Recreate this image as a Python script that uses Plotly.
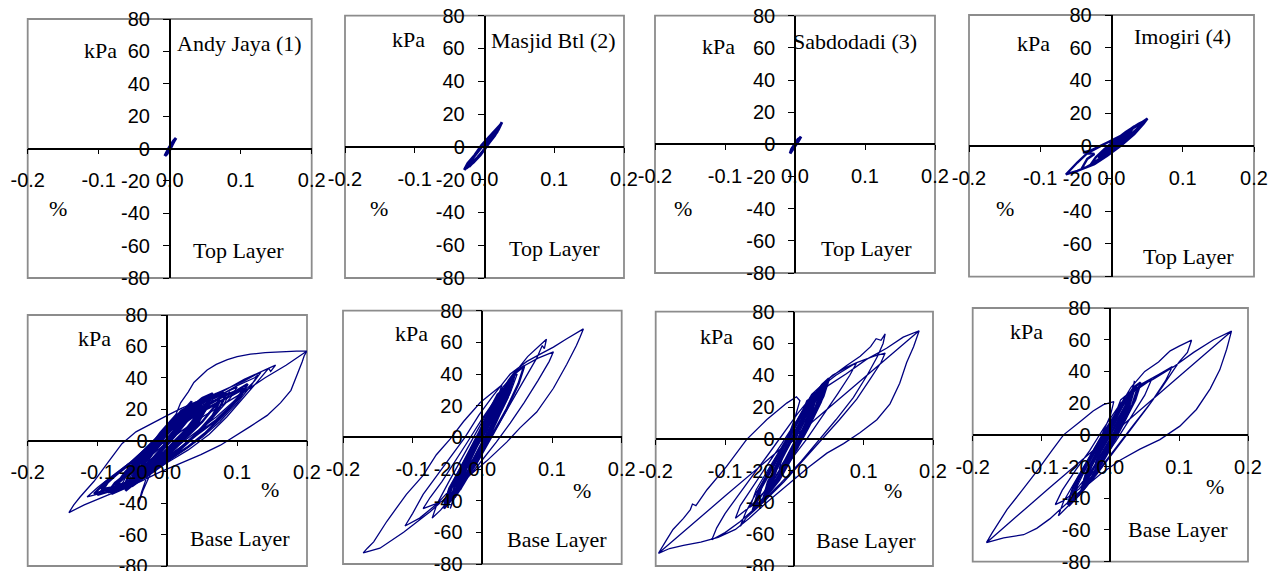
import plotly.graph_objects as go

# ---------------- data (strain %, stress kPa) ----------------
site_names = ["Andy Jaya (1)", "Masjid Btl (2)", "Sabdodadi (3)", "Imogiri (4)"]
layer_names = ["Top Layer", "Base Layer"]
x_ticks = [-0.2, -0.1, 0.0, 0.1, 0.2]
x_tick_labels = ["-0.2", "-0.1", "0.0", "0.1", "0.2"]
y_ticks = [-80, -60, -40, -20, 0, 20, 40, 60, 80]
y_tick_labels = ["-80", "-60", "-40", "-20", "0", "20", "40", "60", "80"]

top1_path = [
    (0.000, 0), (0.004, 3), (0.009, 6.5), (0.006, 4), (0.001, 0), (-0.004, -3), (-0.007, -4.5),
    (-0.005, -2.5), (-0.001, 0.5), (0.005, 4.5), (0.008, 6), (0.004, 2.5), (0.000, -1),
    (-0.006, -4), (-0.004, -3.5), (0.000, -0.5), (0.003, 2), (0.006, 5), (0.002, 1),
    (-0.003, -2.5), (-0.006, -4.5), (-0.002, -1), (0.002, 2), (0.000, 0)]

top2_path = [
    (0.000, 0), (0.010, 6), (0.020, 11), (0.025, 15), (0.020, 10.5), (0.010, 4.5), (0.000, -1.5),
    (-0.010, -6.5), (-0.020, -10.5), (-0.029, -14), (-0.024, -10), (-0.014, -5), (-0.004, 1),
    (0.006, 5.5), (0.016, 10), (0.023, 13.5), (0.018, 9), (0.008, 3), (-0.002, -2.5),
    (-0.012, -7.5), (-0.022, -12), (-0.018, -7.5), (-0.008, -2), (0.002, 3.5), (0.012, 8.5),
    (0.020, 12), (0.015, 7), (0.004, 1), (-0.006, -5), (-0.016, -9.5), (-0.026, -13),
    (-0.020, -8.5), (-0.010, -3), (0.000, 2.5), (0.008, 6)]

top3_path = [
    (0.000, 0), (0.004, 2.5), (0.0086, 4.8), (0.005, 2), (0.000, -1), (-0.004, -3.5), (-0.007, -5.6),
    (-0.005, -3), (-0.001, 0), (0.004, 3), (0.007, 4), (0.003, 1), (-0.002, -2.5),
    (-0.006, -5), (-0.003, -2), (0.001, 1), (0.005, 3.5), (0.002, 0.5), (0.000, 0)]

top4_path = [
    (0.000, 0), (0.010, 4), (0.020, 7.5), (0.015, 4), (0.004, 0), (-0.008, -4), (-0.018, -7.5),
    (-0.012, -4), (-0.002, 0.5), (0.010, 5), (0.025, 10), (0.032, 12), (0.024, 7), (0.010, 1),
    (-0.005, -4), (-0.020, -9), (-0.030, -12), (-0.022, -7), (-0.010, -2), (0.005, 3.5),
    (0.020, 8.5), (0.038, 13.5), (0.045, 15), (0.035, 10), (0.020, 4), (0.005, -1.5),
    (-0.015, -8), (-0.035, -13), (-0.042, -14), (-0.034, -8), (-0.024, -5), (-0.040, -4),
    (-0.030, -3), (-0.015, 0), (0.000, 3), (0.013, 6), (0.032, 11.2), (0.0505, 16.7),
    (0.045, 13.5), (0.032, 7.1), (0.013, 0), (-0.006, -6.1), (-0.024, -11.2), (-0.048, -15.3),
    (-0.064, -17.5), (-0.048, -10.2), (-0.034, -4.5), (-0.015, 0), (-0.001, 3.1), (0.013, 6.1),
    (0.025, 9), (0.018, 5), (0.005, 0), (-0.008, -4), (0.000, 0)]

base1_path = [
    (0.200, 57), (0.170, 48), (0.140, 40), (0.110, 31), (0.080, 23), (0.050, 15), (0.020, 6),
    (-0.010, -5), (-0.030, -12), (-0.015, -4), (0.000, 0),
    (0.015, 9), (0.028, 15), (0.022, 10), (0.005, 1), (-0.015, -9), (-0.030, -16), (-0.024, -10),
    (-0.008, -2), (0.010, 7), (0.030, 17), (0.040, 21), (0.032, 14), (0.012, 3), (-0.010, -8),
    (-0.035, -19), (-0.045, -23), (-0.036, -15), (-0.018, -5), (0.005, 6), (0.025, 15),
    (0.048, 24), (0.055, 26), (0.045, 17), (0.025, 6), (0.000, -6), (-0.025, -16), (-0.050, -26),
    (-0.058, -28), (-0.048, -19), (-0.030, -9), (-0.010, 2), (0.015, 12), (0.035, 19),
    (0.050, 22), (0.040, 14), (0.020, 4), (-0.005, -7), (-0.030, -17), (-0.040, -20),
    (-0.030, -12), (-0.012, -2), (0.008, 9), (0.030, 18), (0.060, 28), (0.070, 30), (0.060, 22),
    (0.040, 11), (0.015, 0), (-0.010, -11), (-0.040, -23), (-0.065, -31), (-0.070, -32),
    (-0.058, -22), (-0.038, -11), (-0.015, 1), (0.005, 10), (0.020, 16), (0.032, 20),
    (0.025, 13), (0.008, 3), (-0.012, -7), (-0.028, -14), (-0.045, -21), (-0.038, -14),
    (-0.020, -4), (-0.002, 6), (0.018, 14), (0.040, 23), (0.080, 30), (0.100, 34), (0.090, 27),
    (0.070, 17), (0.045, 6), (0.020, -4), (-0.010, -13), (-0.045, -24), (-0.080, -31),
    (-0.095, -34), (-0.085, -27), (-0.060, -17), (-0.035, -7), (-0.010, 4), (0.020, 13),
    (0.060, 25), (0.100, 35), (0.125, 40), (0.130, 42), (0.120, 35), (0.100, 24), (0.075, 12),
    (0.050, 2), (0.020, -7), (-0.010, -16), (-0.040, -26), (-0.070, -31), (-0.100, -35),
    (-0.090, -29), (-0.070, -21), (-0.045, -11), (-0.020, 0), (0.000, 9), (0.030, 19),
    (0.070, 29), (0.110, 39), (0.140, 45), (0.155, 48), (0.148, 44), (0.145, 46), (0.130, 38),
    (0.110, 28), (0.085, 15), (0.060, 4), (0.030, -6), (0.000, -14), (-0.030, -22),
    (-0.060, -28), (-0.090, -33), (-0.115, -36), (-0.100, -30), (-0.080, -23), (-0.050, -13),
    (-0.020, -2), (0.010, 8), (0.030, 15), (0.045, 19), (0.035, 11), (0.010, 0), (-0.015, -12),
    (-0.025, -22), (-0.035, -32), (-0.041, -40), (-0.037, -33), (-0.030, -24), (-0.020, -14),
    (-0.005, -3), (0.015, 8), (0.040, 18), (0.065, 24), (0.090, 31), (0.080, 22), (0.060, 12),
    (0.035, 2), (0.010, -8), (-0.020, -18), (-0.050, -27), (-0.075, -30), (-0.065, -24),
    (-0.045, -15), (-0.025, -6), (-0.005, 5), (0.010, 14), (0.019, 24), (0.030, 31),
    (0.038, 37), (0.050, 42), (0.057, 45), (0.070, 48.5), (0.086, 51.5), (0.100, 53.5),
    (0.119, 55), (0.140, 56), (0.167, 56.7), (0.185, 57), (0.200, 57), (0.196, 54), (0.193, 50),
    (0.186, 42), (0.177, 32), (0.162, 24), (0.143, 16), (0.119, 9), (0.096, 2.5), (0.076, -3),
    (0.048, -9), (0.019, -14.5), (-0.010, -20), (-0.038, -26), (-0.067, -31.5), (-0.096, -37),
    (-0.119, -41), (-0.141, -46), (-0.134, -41), (-0.125, -36), (-0.105, -26), (-0.085, -14),
    (-0.065, -2), (-0.045, 5.5), (-0.020, 11.5), (0.000, 16), (0.020, 20.5), (0.050, 26),
    (0.080, 32), (0.110, 38), (0.135, 44), (0.125, 38), (0.100, 27), (0.070, 15), (0.040, 5),
    (0.010, -5), (-0.020, -14), (-0.035, -18), (-0.020, -8), (0.000, 2), (0.015, 9),
    (0.005, 3), (0.000, 0)]

base1_core = [
    (0.000, 0), (0.020, 12), (0.045, 22), (0.060, 27), (0.050, 19), (0.030, 8), (0.005, -4),
    (-0.020, -14), (-0.045, -23), (-0.060, -27), (-0.050, -18), (-0.030, -8), (-0.010, 3),
    (0.015, 13), (0.035, 21), (0.050, 24), (0.042, 16), (0.025, 6), (0.002, -6), (-0.022, -16),
    (-0.042, -22), (-0.035, -14), (-0.018, -4), (0.000, 5), (0.025, 17), (0.045, 25),
    (0.070, 29), (0.080, 31), (0.070, 23), (0.050, 12), (0.025, 1), (0.000, -10),
    (-0.025, -19), (-0.055, -28), (-0.075, -31), (-0.068, -25), (-0.048, -16), (-0.025, -5),
    (-0.005, 6), (0.010, 15), (0.030, 22), (0.040, 23), (0.030, 14), (0.012, 4), (-0.008, -6),
    (-0.030, -18), (-0.052, -26), (-0.045, -17), (-0.028, -6), (-0.010, 5), (0.012, 16),
    (0.030, 20), (0.022, 10), (0.005, 0), (-0.015, -10), (-0.035, -20), (-0.048, -24),
    (-0.040, -15), (-0.020, -3), (0.000, 8), (0.020, 19), (0.040, 24), (0.065, 27), (0.085, 30),
    (0.075, 21), (0.055, 10), (0.030, -1), (0.005, -11), (-0.020, -19), (-0.050, -29),
    (-0.085, -33), (-0.075, -27), (-0.055, -20), (-0.030, -10), (-0.008, 2), (0.015, 10),
    (0.035, 16), (0.060, 21), (0.075, 25), (0.065, 16), (0.045, 6), (0.020, -5), (-0.005, -15),
    (-0.030, -23), (-0.060, -30), (-0.080, -34), (-0.070, -27), (-0.050, -19), (-0.025, -8),
    (0.000, 4), (0.020, 14), (0.045, 20), (0.070, 26), (0.100, 32), (0.115, 36), (0.105, 28),
    (0.080, 16), (0.055, 5), (0.030, -4), (0.000, -13), (-0.030, -21), (-0.060, -27),
    (-0.075, -29), (-0.060, -20), (-0.035, -9), (-0.015, 1), (0.005, 11), (0.025, 20),
    (0.035, 25), (0.028, 17), (0.012, 7), (-0.005, -3), (-0.020, -11), (-0.038, -19),
    (-0.030, -10), (-0.015, -1), (0.000, 0), (0.020, 10), (0.050, 19), (0.090, 28), (0.110, 33),
    (0.095, 24), (0.070, 13), (0.040, 3), (0.010, -8), (-0.025, -19), (-0.060, -28),
    (-0.090, -32), (-0.105, -34), (-0.090, -27), (-0.065, -19), (-0.040, -10), (-0.015, 1),
    (0.010, 11), (0.035, 18), (0.055, 20), (0.045, 12), (0.025, 3), (0.000, -8), (-0.030, -20),
    (-0.065, -29), (-0.095, -31), (-0.080, -24), (-0.055, -15), (-0.030, -5), (-0.005, 6),
    (0.020, 16), (0.050, 27), (0.065, 30), (0.055, 20), (0.035, 9), (0.010, -2), (-0.015, -13),
    (-0.040, -25), (-0.060, -32), (-0.050, -24), (-0.030, -13), (-0.010, -2), (0.000, 0)]

base2_path = [
    (0.000, 0), (0.012, 10), (0.022, 18), (0.018, 11), (0.005, 0), (-0.010, -12), (-0.020, -20),
    (-0.015, -12), (-0.003, -2), (0.010, 9), (0.025, 22), (0.032, 28), (0.026, 19), (0.012, 6),
    (-0.005, -8), (-0.020, -21), (-0.032, -30), (-0.026, -21), (-0.012, -9), (0.004, 5),
    (0.020, 20), (0.035, 33), (0.042, 37), (0.036, 28), (0.020, 12), (0.000, -5), (-0.020, -20),
    (-0.038, -33), (-0.045, -38), (-0.038, -28), (-0.022, -14), (-0.005, 0), (0.012, 15),
    (0.028, 28), (0.040, 35), (0.030, 22), (0.012, 6), (-0.010, -12), (-0.030, -28),
    (-0.050, -40), (-0.042, -30), (-0.025, -16), (-0.008, -2), (0.010, 14), (0.030, 30),
    (0.045, 39), (0.050, 40), (0.040, 28), (0.022, 12), (0.003, -4), (-0.020, -20),
    (-0.040, -34), (-0.055, -42), (-0.048, -32), (-0.030, -18), (-0.012, -4), (0.008, 12),
    (0.025, 26), (0.045, 40), (0.065, 51), (0.080, 57), (0.092, 62), (0.089, 56), (0.086, 58),
    (0.078, 50), (0.065, 40), (0.050, 28), (0.032, 15), (0.015, 2), (-0.005, -12),
    (-0.025, -26), (-0.045, -38), (-0.060, -46), (-0.072, -51), (-0.065, -42), (-0.048, -28),
    (-0.030, -14), (-0.010, 2), (0.010, 18), (0.030, 32), (0.055, 44), (0.080, 50),
    (0.102, 54), (0.096, 48), (0.080, 36), (0.060, 22), (0.040, 9), (0.020, -3), (-0.005, -17),
    (-0.030, -30), (-0.055, -40), (-0.085, -45), (-0.075, -38), (-0.058, -28), (-0.040, -16),
    (-0.020, -2), (0.000, 12), (0.015, 22), (0.025, 28), (0.015, 14), (0.000, -4),
    (-0.015, -18), (-0.030, -30), (-0.040, -38), (-0.046, -45), (-0.040, -36), (-0.028, -22),
    (-0.012, -6), (0.005, 10), (0.020, 25), (0.030, 32), (0.022, 20), (0.005, 2),
    (-0.015, -15), (-0.040, -30), (-0.065, -42), (-0.090, -51), (-0.111, -56), (-0.100, -48),
    (-0.085, -36), (-0.065, -24), (-0.045, -12), (-0.025, 0), (-0.005, 14), (0.015, 26),
    (0.040, 40), (0.064, 48), (0.085, 53), (0.102, 57), (0.120, 62), (0.131, 65), (0.145, 68.5),
    (0.140, 63), (0.135, 58), (0.121, 46), (0.102, 31), (0.078, 16), (0.054, 6), (0.035, -3),
    (0.006, -15), (-0.018, -24), (-0.042, -34), (-0.075, -47), (-0.113, -60), (-0.147, -70),
    (-0.171, -73), (-0.165, -70), (-0.156, -66), (-0.137, -53), (-0.109, -36), (-0.085, -24),
    (-0.066, -11), (-0.046, -1), (-0.027, 10), (-0.003, 22), (0.011, 27), (0.020, 30),
    (0.028, 33), (0.020, 22), (0.005, 5), (-0.012, -10), (-0.025, -22), (-0.018, -12),
    (-0.005, 0), (0.008, 10), (0.015, 16), (0.010, 8), (0.000, 0)]

base2_core = [
    (0.000, 0), (0.015, 14), (0.030, 27), (0.040, 34), (0.034, 24), (0.020, 10), (0.004, -5),
    (-0.012, -18), (-0.028, -30), (-0.040, -38), (-0.034, -27), (-0.020, -14), (-0.006, -1),
    (0.010, 12), (0.025, 25), (0.035, 31), (0.028, 20), (0.014, 6), (-0.002, -8), (-0.018, -22),
    (-0.032, -33), (-0.026, -22), (-0.012, -9), (0.004, 6), (0.020, 22), (0.038, 36),
    (0.048, 42), (0.040, 30), (0.024, 14), (0.006, -2), (-0.014, -18), (-0.034, -32),
    (-0.050, -42), (-0.044, -31), (-0.028, -17), (-0.010, -2), (0.008, 15), (0.022, 27),
    (0.030, 30), (0.022, 17), (0.008, 3), (-0.008, -12), (-0.024, -26), (-0.036, -35),
    (-0.030, -24), (-0.015, -10), (0.000, 4), (0.018, 20), (0.034, 32), (0.045, 37),
    (0.036, 25), (0.018, 8), (0.000, -8), (-0.020, -24), (-0.040, -37), (-0.055, -45),
    (-0.048, -34), (-0.032, -20), (-0.014, -5), (0.004, 10), (0.020, 24), (0.030, 29),
    (0.024, 19), (0.010, 5), (-0.006, -10), (-0.022, -24), (-0.030, -30), (-0.022, -18),
    (-0.008, -5), (0.006, 8), (0.025, 26), (0.045, 40), (0.060, 45), (0.052, 34), (0.035, 18),
    (0.015, 2), (-0.008, -16), (-0.030, -31), (-0.045, -40), (-0.038, -28), (-0.020, -13),
    (0.000, 0)]

base3_path = [
    (0.180, 68), (0.100, 38), (0.000, 1), (-0.100, -36), (-0.196, -72),
    (-0.185, -64), (-0.175, -57), (-0.160, -50), (-0.150, -44.5), (-0.147, -41), (-0.142, -42),
    (-0.126, -32), (-0.098, -17.5), (-0.069, -0.5), (-0.040, 12), (-0.011, 22.5), (0.003, 26.5),
    (0.008, 24), (0.000, 12), (-0.012, -2), (-0.025, -15), (-0.035, -25), (-0.025, -14),
    (-0.010, 0), (0.005, 12), (0.012, 9), (0.020, 15), (0.015, 8), (0.002, -2), (-0.012, -12),
    (-0.022, -19), (-0.017, -11), (-0.005, -2), (0.008, 8), (0.022, 19), (0.032, 26),
    (0.026, 17), (0.010, 4), (-0.008, -10), (-0.025, -22), (-0.035, -29), (-0.028, -19),
    (-0.014, -8), (0.002, 5), (0.020, 20), (0.035, 30), (0.042, 34), (0.034, 23), (0.016, 8),
    (-0.004, -8), (-0.025, -23), (-0.045, -34), (-0.052, -37), (-0.044, -27), (-0.028, -15),
    (-0.010, -1), (0.010, 14), (0.030, 28), (0.045, 36), (0.036, 24), (0.016, 8), (-0.006, -9),
    (-0.030, -26), (-0.055, -40), (-0.064, -43), (-0.055, -32), (-0.036, -18), (-0.015, -3),
    (0.006, 12), (0.030, 30), (0.055, 40), (0.075, 45), (0.090, 48), (0.080, 40), (0.062, 28),
    (0.040, 14), (0.018, 0), (-0.008, -15), (-0.035, -30), (-0.065, -43), (-0.085, -50),
    (-0.078, -42), (-0.060, -30), (-0.040, -17), (-0.018, -3), (0.004, 12), (0.025, 28),
    (0.050, 38), (0.075, 46), (0.095, 52), (0.110, 58), (0.118, 63), (0.125, 62), (0.131, 66),
    (0.128, 60), (0.120, 52), (0.105, 40), (0.085, 26), (0.060, 12), (0.035, -1), (0.010, -14),
    (-0.020, -28), (-0.050, -41), (-0.078, -52), (-0.100, -59), (-0.119, -63.5), (-0.112, -56),
    (-0.100, -47), (-0.082, -36), (-0.060, -23), (-0.038, -10), (-0.015, 4), (0.005, 16),
    (0.020, 24), (0.035, 31), (0.028, 22), (0.012, 8), (-0.005, -6), (-0.022, -20),
    (-0.040, -33), (-0.032, -22), (-0.016, -8), (0.000, 6), (0.030, 30), (0.060, 40),
    (0.090, 48), (0.115, 52), (0.131, 54), (0.125, 48), (0.110, 38), (0.090, 25), (0.065, 12),
    (0.040, 0), (0.015, -12), (-0.015, -27), (-0.045, -40), (-0.070, -50), (-0.078, -55),
    (-0.070, -46), (-0.055, -34), (-0.035, -20), (-0.015, -5), (0.005, 10), (0.018, 24),
    (0.047, 33), (0.075, 41), (0.104, 50), (0.133, 57), (0.157, 64), (0.180, 68),
    (0.172, 58), (0.162, 48), (0.152, 35), (0.138, 22), (0.119, 12), (0.095, 4), (0.071, -3),
    (0.047, -9), (0.020, -18), (-0.010, -29), (-0.040, -40), (-0.065, -50), (-0.085, -57),
    (-0.110, -62), (-0.135, -65), (-0.160, -67), (-0.180, -69), (-0.196, -72)]

base3_core = [
    (0.000, 0), (0.015, 13), (0.030, 24), (0.042, 32), (0.035, 22), (0.020, 8), (0.004, -6),
    (-0.014, -19), (-0.032, -31), (-0.045, -38), (-0.038, -27), (-0.022, -14), (-0.006, -1),
    (0.012, 13), (0.028, 25), (0.038, 30), (0.030, 19), (0.015, 5), (-0.002, -9), (-0.020, -23),
    (-0.036, -33), (-0.029, -22), (-0.014, -9), (0.003, 5), (0.022, 22), (0.040, 34),
    (0.050, 38), (0.042, 27), (0.025, 12), (0.006, -4), (-0.016, -20), (-0.038, -34),
    (-0.056, -43), (-0.048, -31), (-0.030, -17), (-0.012, -2), (0.008, 14), (0.024, 26),
    (0.032, 29), (0.024, 16), (0.009, 2), (-0.009, -13), (-0.027, -27), (-0.040, -35),
    (-0.033, -24), (-0.017, -10), (0.000, 4), (0.020, 20), (0.037, 31), (0.048, 35),
    (0.038, 23), (0.020, 7), (0.000, -9), (-0.022, -26), (-0.044, -38), (-0.060, -45),
    (-0.052, -33), (-0.035, -19), (-0.015, -4), (0.005, 11), (0.022, 24), (0.032, 28),
    (0.025, 18), (0.010, 4), (-0.007, -11), (-0.025, -25), (-0.034, -30), (-0.025, -18),
    (-0.010, -4), (0.000, 0)]

base4_path = [
    (0.176, 65.4), (0.090, 33), (0.000, -0.5), (-0.090, -34), (-0.180, -68),
    (-0.172, -62), (-0.165, -57), (-0.150, -47), (-0.130, -36), (-0.105, -22), (-0.085, -10),
    (-0.068, 0), (-0.045, 8), (-0.025, 15), (-0.010, 19), (0.005, 21), (0.000, 12),
    (-0.010, 2), (-0.020, -8), (-0.030, -17), (-0.022, -9), (-0.010, 1), (0.002, 10),
    (0.012, 16), (0.005, 7), (-0.005, -2), (0.010, 10), (0.020, 17), (0.015, 10), (0.003, 0),
    (-0.012, -11), (-0.022, -18), (-0.016, -10), (-0.004, -1), (0.008, 8), (0.022, 19),
    (0.030, 25), (0.024, 16), (0.010, 4), (-0.008, -10), (-0.028, -24), (-0.038, -30),
    (-0.030, -20), (-0.015, -8), (0.002, 5), (0.020, 20), (0.033, 29), (0.035, 34), (0.030, 24),
    (0.015, 9), (-0.005, -7), (-0.030, -24), (-0.050, -35), (-0.056, -38), (-0.046, -27),
    (-0.028, -14), (-0.010, 0), (0.010, 14), (0.030, 26), (0.050, 32), (0.060, 35), (0.050, 25),
    (0.030, 11), (0.008, -4), (-0.018, -20), (-0.045, -34), (-0.070, -42), (-0.080, -44),
    (-0.070, -35), (-0.050, -22), (-0.030, -10), (-0.010, 4), (0.015, 20), (0.045, 32),
    (0.070, 38), (0.090, 43), (0.080, 34), (0.060, 21), (0.035, 7), (0.010, -7), (-0.020, -24),
    (-0.050, -40), (-0.068, -48), (-0.0755, -51), (-0.068, -42), (-0.052, -30), (-0.032, -15),
    (-0.012, 0), (0.008, 14), (0.030, 30), (0.050, 40), (0.070, 46), (0.082, 51), (0.087, 53),
    (0.100, 56), (0.118, 59.7), (0.112, 52), (0.100, 46), (0.092, 41), (0.075, 30), (0.055, 18),
    (0.032, 5), (0.008, -9), (-0.020, -25), (-0.045, -38), (-0.060, -45), (-0.050, -34),
    (-0.034, -20), (-0.015, -5), (0.005, 10), (0.018, 20), (0.028, 27), (0.020, 16), (0.005, 2),
    (-0.012, -12), (-0.030, -26), (-0.042, -33), (-0.034, -22), (-0.018, -9), (0.000, 5),
    (0.015, 22), (0.033, 28.5), (0.062, 35), (0.092, 43), (0.121, 52), (0.150, 60),
    (0.176, 65.4), (0.169, 54), (0.159, 41), (0.145, 29), (0.125, 16), (0.101, 5.5),
    (0.072, -3), (0.043, -9), (0.014, -16), (-0.015, -25), (-0.040, -34), (-0.065, -44),
    (-0.088, -53), (-0.107, -59), (-0.126, -63), (-0.155, -65), (-0.180, -68)]

base4_core = [
    (0.000, 0), (0.013, 11), (0.026, 22), (0.034, 28), (0.028, 19), (0.015, 6), (0.000, -7),
    (-0.016, -20), (-0.032, -30), (-0.042, -35), (-0.035, -24), (-0.020, -12), (-0.005, 1),
    (0.010, 12), (0.024, 23), (0.032, 27), (0.025, 17), (0.012, 4), (-0.004, -10),
    (-0.020, -23), (-0.034, -31), (-0.028, -20), (-0.013, -8), (0.002, 5), (0.018, 19),
    (0.034, 30), (0.044, 33), (0.036, 22), (0.020, 8), (0.002, -7), (-0.018, -22),
    (-0.040, -35), (-0.055, -40), (-0.047, -29), (-0.030, -16), (-0.012, -2), (0.006, 12),
    (0.020, 22), (0.028, 25), (0.020, 14), (0.006, 1), (-0.010, -13), (-0.026, -26),
    (-0.038, -33), (-0.031, -22), (-0.016, -9), (0.000, 4), (0.016, 17), (0.030, 27),
    (0.040, 30), (0.032, 19), (0.016, 5), (-0.002, -10), (-0.024, -26), (-0.046, -38),
    (-0.062, -44), (-0.054, -33), (-0.036, -19), (-0.016, -4), (0.004, 10), (0.018, 20),
    (0.026, 24), (0.019, 13), (0.006, 0), (-0.010, -14), (-0.022, -22), (-0.015, -11),
    (0.000, 0)]

# one list of traces per panel: (path, line width)
panel_traces = [
    [(top1_path, 2.8)], [(top2_path, 2.8)], [(top3_path, 2.8)], [(top4_path, 2.4)],
    [(base1_path, 1.3), (base1_core, 2.4)], [(base2_path, 1.3), (base2_core, 2.4)],
    [(base3_path, 1.3), (base3_core, 2.4)], [(base4_path, 1.3), (base4_core, 2.4)]]

# ---------------- layout (pixel boxes of each chart area) ----------------
W, H = 1276, 571
boxes = [(27.7, 19, 311.7, 278), (345, 15.7, 624, 278), (655, 15.7, 935, 273),
         (969, 15, 1254, 276.7), (27.7, 315, 307, 566), (343, 310.7, 621.7, 564),
         (655.7, 311.7, 933, 566), (972.7, 308, 1248, 561.7)]

# annotation positions in data units: (kPa, %, layer, site title)
label_pos = [
    ((-0.098, 60.8), (-0.157, -36.9), (0.097, -62.7), (0.098, 65)),
    ((-0.109, 65.2), (-0.151, -37.5), (0.101, -61.9), (0.099, 64.7)),
    ((-0.110, 60.7), (-0.160, -39.8), (0.1025, -64.6), (0.0857, 63.8)),
    ((-0.109, 62.7), (-0.149, -38.1), (0.108, -67.8), (0.0999, 67.1)),
    ((-0.105, 65.1), (0.147, -31.5), (0.104, -62.3), None),
    ((-0.101, 65.7), (0.1426, -33.3), (0.1067, -64.8), None),
    ((-0.112, 64.3), (0.1427, -32.2), (0.104, -63.7), None),
    ((-0.1215, 65.0), (0.152, -32.7), (0.0988, -60.0), None),
]

NAVY = "#000080"
tick_font = dict(family="Arial, 'Liberation Sans', sans-serif", size=20, color="black")
serif_font = dict(family="'Times New Roman', 'Liberation Serif', serif", size=22, color="black")

fig = go.Figure()
layout = dict(width=W, height=H, margin=dict(l=0, r=0, t=0, b=0, pad=0, autoexpand=False),
              paper_bgcolor="white", plot_bgcolor="white", showlegend=False)
shapes, annotations = [], []

for i, (traces, box) in enumerate(zip(panel_traces, boxes)):
    n = i + 1
    sx = "" if n == 1 else str(n)
    x0, y0, x1, y1 = box
    xd = [x0 / W, x1 / W]
    yd = [1 - y1 / H, 1 - y0 / H]
    for path, lw in traces:
        fig.add_trace(go.Scatter(x=[p[0] for p in path], y=[p[1] for p in path],
                                 mode="lines", xaxis="x" + sx, yaxis="y" + sx,
                                 line=dict(color=NAVY, width=lw), hoverinfo="skip"))
    common = dict(ticks="outside", tickwidth=1, tickcolor="black", showline=True,
                  linecolor="black", linewidth=1.5, showgrid=False, zeroline=False,
                  tickfont=tick_font, ticklabelstandoff=9, ticklabeloverflow="allow",
                  automargin=False, fixedrange=True, anchor="free")
    layout["xaxis" + sx] = dict(domain=xd, range=[-0.2, 0.2],
                                position=(yd[0] + yd[1]) / 2, tickvals=x_ticks,
                                ticktext=x_tick_labels, ticklen=5, **common)
    layout["yaxis" + sx] = dict(domain=yd, range=[-80, 80],
                                position=(xd[0] + xd[1]) / 2, tickvals=y_ticks,
                                ticktext=y_tick_labels, ticklen=6, **common)
    shapes.append(dict(type="rect", xref="x" + sx + " domain", yref="y" + sx + " domain",
                       x0=0, x1=1, y0=0, y1=1, line=dict(color="#8c8c8c", width=1.8),
                       layer="below"))
    kpa, pct, lay, title = label_pos[i]
    ref = dict(xref="x" + sx, yref="y" + sx, showarrow=False, font=serif_font)
    annotations.append(dict(x=kpa[0], y=kpa[1], text="kPa", **ref))
    annotations.append(dict(x=pct[0], y=pct[1], text="%", **ref))
    annotations.append(dict(x=lay[0], y=lay[1], text=layer_names[0 if i < 4 else 1], **ref))
    if title is not None:
        annotations.append(dict(x=title[0], y=title[1], text=site_names[i], **ref))

layout["shapes"] = shapes
layout["annotations"] = annotations
fig.update_layout(**layout)
fig.write_html("out.html", config={"displayModeBar": False},
               post_script="document.body.style.margin='0';document.body.style.overflow='hidden';")
